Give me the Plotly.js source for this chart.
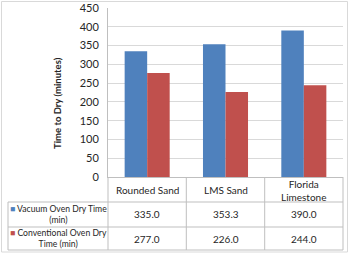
<!DOCTYPE html>
<html>
<head>
<meta charset="utf-8">
<script src="https://cdn.plot.ly/plotly-3.0.1.min.js"></script>
<style>
  html, body { margin: 0; padding: 0; background: #fff; }
  #chart { width: 350px; height: 254px; }
</style>
</head>
<body>
<div id="chart"></div>
<script>
// Drying time per material, two oven types
const categories = ['Rounded Sand', 'LMS Sand', 'Florida<br>Limestone'];
const vacuumTimes = [335.0, 353.3, 390.0];
const conventionalTimes = [277.0, 226.0, 244.0];
const seriesNames = ['Vacuum Oven Dry Time', 'Conventional Oven Dry'];
const seriesNameTails = ['(min)', 'Time (min)'];
const seriesColors = ['#4f81bd', '#c0504d'];

const W = 350, H = 254;
const M = { l: 108, r: 7, t: 8, b: 77 };
const plotW = W - M.l - M.r, plotH = H - M.t - M.b;

// pixel -> paper helpers for the data table under the plot
const px = x => (x - M.l) / plotW;
const py = y => (H - M.b - y) / plotH;

const FONT = 'Lato, "Open Sans", sans-serif';
const TXT = '#262626';
const LINE = '#bfbfbf';

const traces = [
  { type: 'bar', x: categories, y: vacuumTimes, name: seriesNames[0],
    marker: { color: seriesColors[0] }, hoverinfo: 'none' },
  { type: 'bar', x: categories, y: conventionalTimes, name: seriesNames[1],
    marker: { color: seriesColors[1] }, hoverinfo: 'none' }
];

// table grid
const colEdges = [108, 186.3, 264.7, 343];
const rowEdges = [177, 202, 227, 250];
const shapes = [];
function hline(y, x0, x1) {
  shapes.push({ type: 'line', xref: 'paper', yref: 'paper', x0: px(x0), x1: px(x1),
    y0: py(y), y1: py(y), line: { color: LINE, width: 1 } });
}
function vline(x, y0, y1) {
  shapes.push({ type: 'line', xref: 'paper', yref: 'paper', x0: px(x), x1: px(x),
    y0: py(y0), y1: py(y1), line: { color: LINE, width: 1 } });
}
hline(rowEdges[1], 8, 343);
hline(rowEdges[2], 8, 343);
hline(rowEdges[3], 8, 343);
vline(8, rowEdges[1], rowEdges[3]);
colEdges.forEach(x => vline(x, rowEdges[0], rowEdges[3]));
// chart frame
shapes.push({ type: 'rect', xref: 'paper', yref: 'paper', x0: px(1.5), x1: px(347.5),
  y0: py(1.5), y1: py(252), line: { color: '#d9d9d9', width: 1 } });

const annotations = [];
// category header row
categories.forEach((c, i) => {
  annotations.push({ xref: 'x', yref: 'paper', x: i, y: py((rowEdges[0] + rowEdges[1]) / 2 + 0.5),
    text: c, showarrow: false, xanchor: 'center', yanchor: 'middle',
    font: { family: FONT, size: 10, color: TXT } });
});
// series rows
[vacuumTimes, conventionalTimes].forEach((vals, r) => {
  const yc = (rowEdges[r + 1] + rowEdges[r + 2]) / 2;
  annotations.push({ xref: 'paper', yref: 'paper', x: px(58.5), y: py(yc),
    text: '<span style="color:' + seriesColors[r] + '">■</span> ' + seriesNames[r] + '<br>' + seriesNameTails[r],
    showarrow: false, xanchor: 'center', yanchor: 'middle', align: 'center',
    font: { family: FONT, size: 8.6, color: TXT } });
  vals.forEach((v, i) => {
    annotations.push({ xref: 'x', yref: 'paper', x: i, y: py(yc),
      text: v.toFixed(1), showarrow: false, xanchor: 'center', yanchor: 'middle',
      font: { family: FONT, size: 10, color: TXT } });
  });
});
// y axis title
annotations.push({ xref: 'paper', yref: 'paper', x: px(57), y: py(103),
  text: '<b>Time to Dry (minutes)</b>', textangle: -90, showarrow: false,
  xanchor: 'center', yanchor: 'middle', font: { family: FONT, size: 9.5, color: TXT } });

const layout = {
  width: W, height: H,
  margin: M,
  paper_bgcolor: '#fff', plot_bgcolor: '#fff',
  showlegend: false,
  barmode: 'group',
  bargap: 0.425,
  bargroupgap: 0,
  xaxis: { type: 'category', range: [-0.5, 2.5], showticklabels: false, ticks: '',
    showgrid: false, zeroline: false, showline: true, linecolor: LINE, linewidth: 1, fixedrange: true },
  yaxis: { range: [0, 450], dtick: 50, tick0: 0, showgrid: true, gridcolor: '#d9d9d9', gridwidth: 1,
    zeroline: false, showline: true, linecolor: LINE, linewidth: 1, ticks: '',
    ticklabelstandoff: 6,
    tickfont: { family: FONT, size: 11, color: TXT }, fixedrange: true },
  shapes: shapes,
  annotations: annotations
};

Plotly.newPlot('chart', traces, layout, { staticPlot: true, displayModeBar: false });
</script>
</body>
</html>
